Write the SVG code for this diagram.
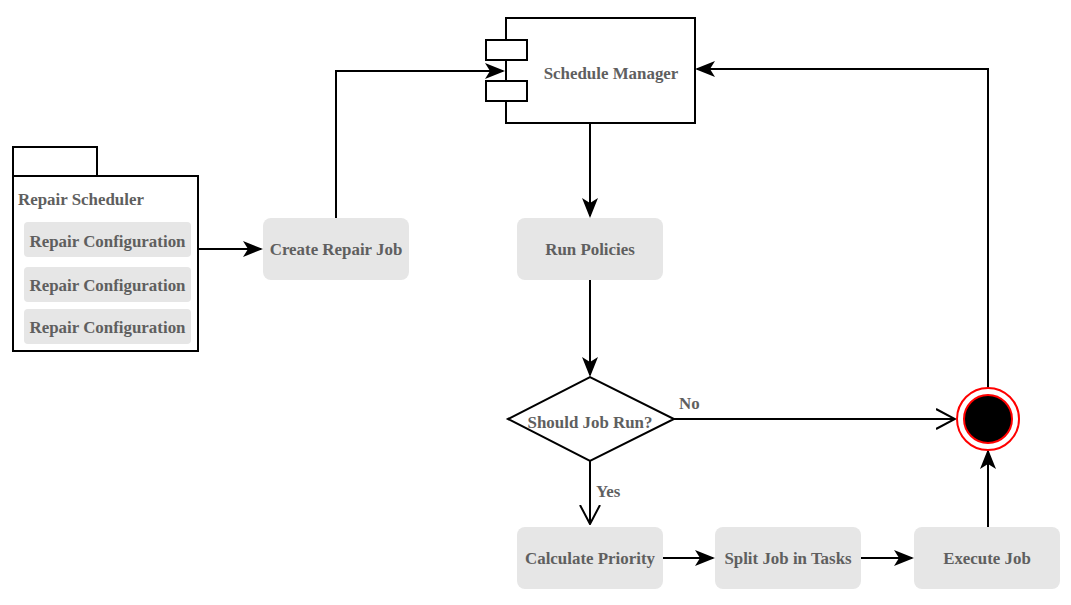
<svg xmlns="http://www.w3.org/2000/svg" width="1071" height="605" viewBox="0 0 1071 605">
<style>
text{font-family:"Liberation Serif","Times New Roman",serif;font-weight:bold;font-size:16.9px;fill:#5f5f5f}
.box{fill:#e6e6e6;stroke:none}
.ln{fill:none;stroke:#000;stroke-width:2}
.sh{fill:#fff;stroke:#000;stroke-width:2}
</style>
<defs>
<marker id="a" viewBox="0 0 20 16" refX="18" refY="8" markerWidth="20" markerHeight="16" markerUnits="userSpaceOnUse" orient="auto">
<path d="M0,0 L20,8 L0,16 L5,8 Z" fill="#000"/>
</marker>
<marker id="o" viewBox="0 0 20 24" refX="19" refY="12" markerWidth="20" markerHeight="24" markerUnits="userSpaceOnUse" orient="auto">
<path d="M0,2 L19,12 L0,22" fill="none" stroke="#000" stroke-width="2"/>
</marker>
</defs>
<g id="connectors">
<path class="ln" d="M198,249 H261" marker-end="url(#a)"/>
<path class="ln" d="M336,218 V71 H503" marker-end="url(#a)"/>
<path class="ln" d="M590,123 V216" marker-end="url(#a)"/>
<path class="ln" d="M590,280 V375" marker-end="url(#a)"/>
<path class="ln" d="M590,461 V524" marker-end="url(#o)"/>
<path class="ln" d="M674,419 H955" marker-end="url(#o)"/>
<path class="ln" d="M988,388 V69 H697" marker-end="url(#a)"/>
<path class="ln" d="M663,558 H713" marker-end="url(#a)"/>
<path class="ln" d="M861,558 H912" marker-end="url(#a)"/>
<path class="ln" d="M988,527 V451" marker-end="url(#a)"/>
<text x="596" y="497">Yes</text>
<text x="679" y="409">No</text>
</g>
<g id="repair-scheduler">
<rect class="sh" x="13" y="147" width="84" height="29"/>
<rect class="sh" x="13" y="176" width="185" height="175"/>
<text x="18" y="205">Repair Scheduler</text>
</g>
<g id="repair-config-1"><rect class="box" x="24" y="222" width="167" height="35" rx="4"/><text x="107.5" y="247" text-anchor="middle">Repair Configuration</text></g>
<g id="repair-config-2"><rect class="box" x="24" y="267" width="167" height="35" rx="4"/><text x="107.5" y="291" text-anchor="middle">Repair Configuration</text></g>
<g id="repair-config-3"><rect class="box" x="24" y="309" width="167" height="35" rx="4"/><text x="107.5" y="333" text-anchor="middle">Repair Configuration</text></g>
<g id="create-repair-job"><rect class="box" x="263" y="218" width="146" height="62" rx="8"/><text x="336" y="255" text-anchor="middle">Create Repair Job</text></g>
<g id="schedule-manager">
<rect class="sh" x="506" y="18" width="189" height="105"/>
<rect class="sh" x="486" y="40" width="41" height="20"/>
<rect class="sh" x="486" y="81" width="41" height="20"/>
<text x="611" y="79" text-anchor="middle">Schedule Manager</text>
</g>
<g id="run-policies"><rect class="box" x="517" y="218" width="146" height="62" rx="8"/><text x="590" y="255" text-anchor="middle">Run Policies</text></g>
<g id="should-job-run"><path class="sh" d="M508,419 L590,377 L674,419 L590,461 Z"/><text x="590" y="428" text-anchor="middle">Should Job Run?</text></g>
<g id="end"><circle cx="988" cy="419" r="31" fill="#fff" stroke="#f00" stroke-width="2"/><circle cx="988" cy="419" r="24" fill="#000" stroke="#f00" stroke-width="2"/></g>
<g id="calculate-priority"><rect class="box" x="517" y="527" width="146" height="62" rx="8"/><text x="590" y="564" text-anchor="middle">Calculate Priority</text></g>
<g id="split-job"><rect class="box" x="715" y="527" width="146" height="62" rx="8"/><text x="788" y="564" text-anchor="middle">Split Job in Tasks</text></g>
<g id="execute-job"><rect class="box" x="914" y="527" width="146" height="62" rx="8"/><text x="987" y="564" text-anchor="middle">Execute Job</text></g>
</svg>
